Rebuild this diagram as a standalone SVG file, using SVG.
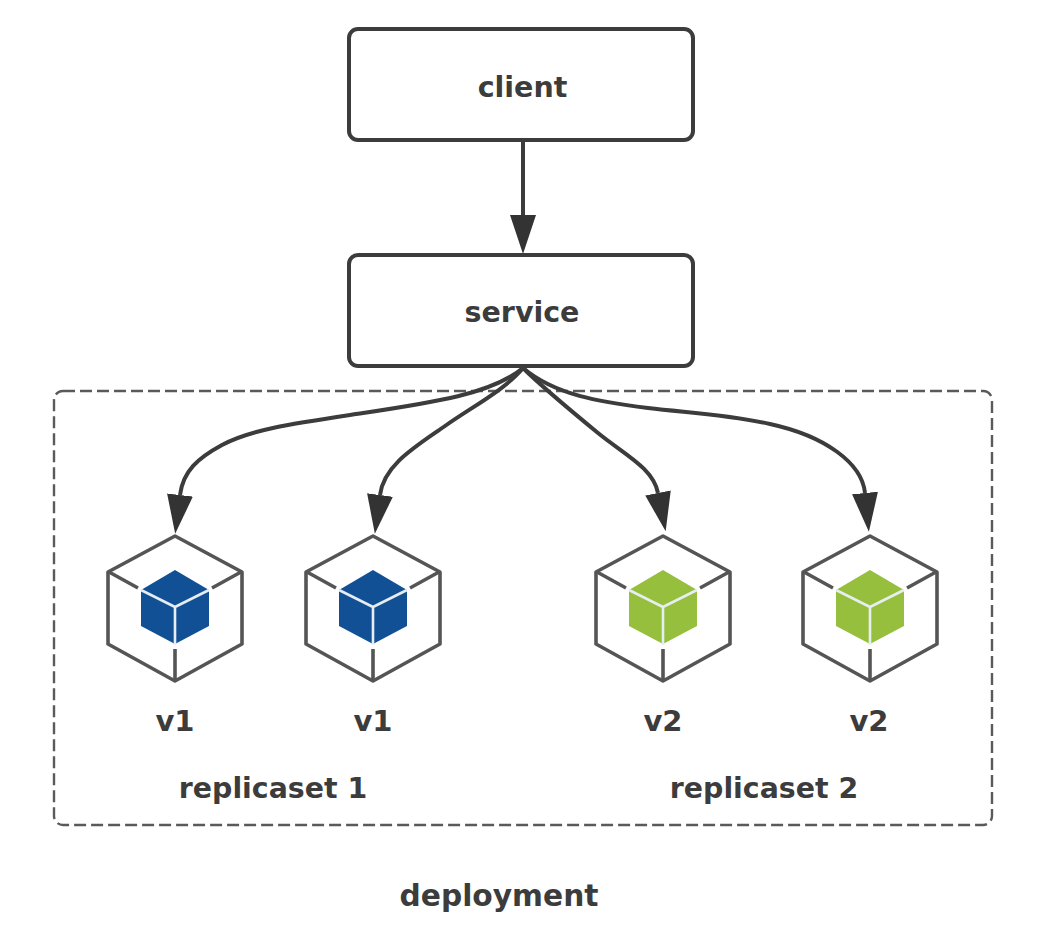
<svg xmlns="http://www.w3.org/2000/svg" width="1045" height="946" viewBox="0 0 1045 946">
<style>
text{font-family:"DejaVu Sans","Noto Sans",sans-serif;font-weight:700;fill:#3c3c3c;text-anchor:middle}
.box{fill:#fff;stroke:#3c3c3c;stroke-width:4}
.conn{fill:none;stroke:#3c3c3c;stroke-width:4}
.frame{fill:none;stroke:#5a5a5a;stroke-width:2.4;stroke-dasharray:12 5}
.outer{fill:none;stroke:#555;stroke-width:3.6;stroke-linejoin:round}
.spoke{fill:none;stroke:#555;stroke-width:3.6}
.blue{fill:#125096}.green{fill:#95bf3c}
</style>
<defs>
<marker id="arrow" markerUnits="userSpaceOnUse" markerWidth="42" markerHeight="28" refX="0" refY="14" orient="auto"><path d="M0 1L39 14L0 27Z" fill="#333"/></marker>
<g id="shell"><path class="outer" d="M0 536L67 572V644L0 681L-67 644V572Z"/><path class="spoke" d="M-66 572L-37 588M66 572L37 588M0 681V649"/></g>
<g id="core"><path d="M0 570L34 590V626L0 644L-34 626V590Z"/><path d="M-34 590L0 607L34 590M0 607V645" fill="none" stroke="#e6eef2" stroke-width="2.6"/></g>
</defs>
<rect class="frame" x="54" y="391" width="938" height="434" rx="9"/>
<g id="connectors">
<path class="conn" d="M523 368C490 395 430 403 350 415C290 424 250 430 222 445C198 458 183 471 180 495" marker-end="url(#arrow)"/>
<path class="conn" d="M523 368C505 390 470 408 445 426C415 447 384 465 380 495" marker-end="url(#arrow)"/>
<path class="conn" d="M523 368C540 385 570 410 598 433C625 455 653 468 658 493" marker-end="url(#arrow)"/>
<path class="conn" d="M523 368C555 395 600 402 648 408C690 413 725 414 770 424C825 436 862 463 865 493" marker-end="url(#arrow)"/>
<path class="conn" d="M523 140V215" marker-end="url(#arrow)"/>
</g>
<g id="client"><rect class="box" x="349" y="29" width="344" height="111" rx="9"/><text x="522.5" y="97" font-size="28.5">client</text></g>
<g id="service"><rect class="box" x="349" y="255" width="344" height="111" rx="9"/><text x="522" y="322" font-size="28.5">service</text></g>
<g id="pod1"><use href="#shell" x="175"/><use href="#core" x="175" class="blue"/><text x="175" y="731" font-size="29">v1</text></g>
<g id="pod2"><use href="#shell" x="373"/><use href="#core" x="373" class="blue"/><text x="373" y="731" font-size="29">v1</text></g>
<g id="pod3"><use href="#shell" x="663"/><use href="#core" x="663" class="green"/><text x="663" y="731" font-size="29">v2</text></g>
<g id="pod4"><use href="#shell" x="870"/><use href="#core" x="870" class="green"/><text x="869" y="731" font-size="29">v2</text></g>
<g id="labels"><text x="273" y="798" font-size="28.4">replicaset 1</text><text x="764" y="798" font-size="28.4">replicaset 2</text><text x="499" y="906" font-size="29.7">deployment</text></g>
</svg>
